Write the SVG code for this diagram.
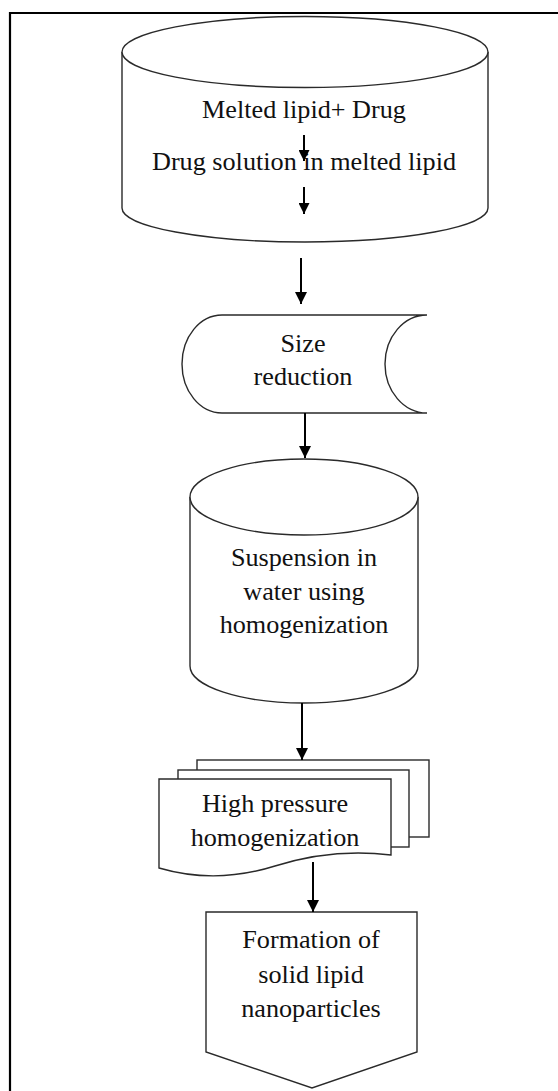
<svg xmlns="http://www.w3.org/2000/svg" width="558" height="1091" viewBox="0 0 558 1091">
<style>
.shape{fill:#fff;stroke:#2a2a2a;stroke-width:1.4}
.conn{fill:none;stroke:#000;stroke-width:2}
text{font-family:"Liberation Serif","Times New Roman",serif;font-size:26.2px;fill:#111;text-anchor:middle}
</style>
<defs>
<marker id="ah" viewBox="0 0 12 12" refX="12" refY="6" markerWidth="12" markerHeight="12" markerUnits="userSpaceOnUse" orient="auto">
<path d="M0,0 L12,6 L0,12 Z" fill="#000"/>
</marker>
<marker id="ahs" viewBox="0 0 10 10" refX="10" refY="5" markerWidth="11" markerHeight="11" markerUnits="userSpaceOnUse" orient="auto">
<path d="M0,0 L10,5 L0,10 Z" fill="#000"/>
</marker>
</defs>
<rect width="558" height="1091" fill="#fff"/>
<path d="M10,1091 V13 H558" fill="none" stroke="#000" stroke-width="2.2"/>

<g id="melted-lipid">
<path class="shape" d="M122,52 A183,35.5 0 0 1 488,52 V208 A183,34 0 0 1 122,208 Z"/>
<path class="shape" fill="none" d="M122,52 A183,35.5 0 0 0 488,52"/>
<text x="304" y="118">Melted lipid+ Drug</text>
<text x="304" y="170">Drug solution in melted lipid</text>
<line class="conn" x1="304" y1="135" x2="304" y2="161" marker-end="url(#ahs)"/>
<line class="conn" x1="304" y1="187" x2="304" y2="214" marker-end="url(#ahs)"/>
</g>

<g id="size-reduction">
<path class="shape" d="M222,315 L427,315 A42,49 0 0 0 427,413 L222,413 A40,49 0 0 1 222,315 Z"/>
<text x="303" y="352">Size</text>
<text x="303" y="385">reduction</text>
</g>

<g id="suspension">
<path class="shape" d="M190,497 A114,38 0 0 1 418,497 V666 A114,37 0 0 1 190,666 Z"/>
<path class="shape" fill="none" d="M190,497 A114,38 0 0 0 418,497"/>
<text x="304" y="566">Suspension in</text>
<text x="304" y="600">water using</text>
<text x="304" y="633">homogenization</text>
</g>

<g id="high-pressure">
<rect class="shape" x="197" y="760" width="232" height="77"/>
<rect class="shape" x="178" y="770" width="231" height="77"/>
<path class="shape" d="M159,779 H391 V855 C350,850 310,855 275,866 C240,877 200,880 159,868 Z"/>
<text x="275" y="812">High pressure</text>
<text x="275" y="846">homogenization</text>
</g>

<g id="formation">
<path class="shape" d="M206,912 H417 V1052 L312,1088 L206,1052 Z"/>
<text x="311" y="948">Formation of</text>
<text x="311" y="983">solid lipid</text>
<text x="311" y="1017">nanoparticles</text>
</g>

<g id="connectors">
<line class="conn" x1="301" y1="258" x2="301" y2="304" marker-end="url(#ah)"/>
<line class="conn" x1="305" y1="413" x2="305" y2="458" marker-end="url(#ah)"/>
<line class="conn" x1="302" y1="703" x2="302" y2="760" marker-end="url(#ah)"/>
<line class="conn" x1="313" y1="862" x2="313" y2="912" marker-end="url(#ah)"/>
</g>
</svg>
